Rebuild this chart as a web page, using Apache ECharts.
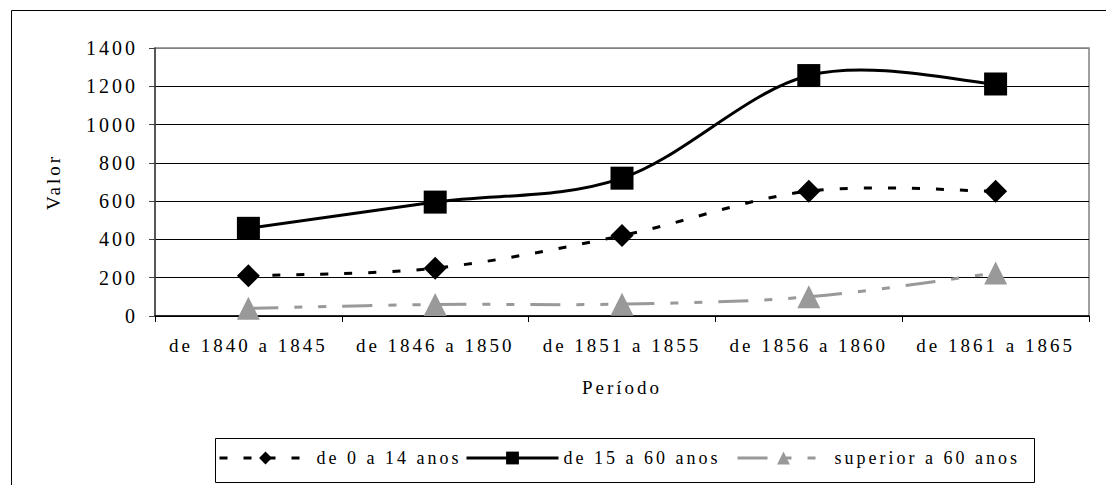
<!DOCTYPE html>
<html>
<head>
<meta charset="utf-8">
<script src="https://cdn.jsdelivr.net/npm/echarts@6/dist/echarts.min.js"></script>
<style>
  html, body { margin: 0; padding: 0; background: #fff; }
  #main { width: 1106px; height: 485px; }
  #main svg text { letter-spacing: 3px; font-family: 'Liberation Serif', 'Times New Roman', serif !important; }
</style>
</head>
<body>
<div id="main"></div>
<script>
const categories = ['de 1840 a 1845', 'de 1846 a 1850', 'de 1851 a 1855', 'de 1856 a 1860', 'de 1861 a 1865'];
const seriesNames = ['de 0 a 14 anos', 'de 15 a 60 anos', 'superior a 60 anos'];
const valores0a14 = [210, 250, 420, 652, 652];
const valores15a60 = [458, 595, 720, 1256, 1212];
const valoresSup60 = [40, 60, 62, 100, 225];
const yTicks = { min: 0, max: 1400, interval: 200 };

const font = "'Liberation Serif', serif";
const colors = ['#000000', '#000000', '#999999'];
const symbols = ['diamond', 'rect', 'triangle'];
const dashes = [[8, 16], 'solid', [30, 16, 8, 16, 8, 16]];
const allValues = [valores0a14, valores15a60, valoresSup60];
const legendLefts = [218, 465, 736];

// Smoothed curve (Excel-style cardinal spline) drawn through the axis scales
function curveSeries(idx) {
  const vals = allValues[idx];
  return {
    name: seriesNames[idx] + ' curva',
    type: 'custom',
    data: vals.map((v, i) => [i, v]),
    z: 1,
    silent: true,
    renderItem: function (params, api) {
      if (params.dataIndex !== 0) return null;
      const pts = vals.map((v, i) => api.coord([i, v]));
      let d = 'M' + pts[0][0] + ' ' + pts[0][1];
      for (let i = 0; i < pts.length - 1; i++) {
        const p0 = pts[Math.max(i - 1, 0)], p1 = pts[i], p2 = pts[i + 1], p3 = pts[Math.min(i + 2, pts.length - 1)];
        const c1x = p1[0] + (p2[0] - p0[0]) / 6, c1y = p1[1] + (p2[1] - p0[1]) / 6;
        const c2x = p2[0] - (p3[0] - p1[0]) / 6, c2y = p2[1] - (p3[1] - p1[1]) / 6;
        d += ' C' + c1x + ' ' + c1y + ' ' + c2x + ' ' + c2y + ' ' + p2[0] + ' ' + p2[1];
      }
      return {
        type: 'path',
        shape: { pathData: d },
        style: { fill: 'none', stroke: colors[idx], lineWidth: 3, lineDash: dashes[idx] === 'solid' ? null : dashes[idx] }
      };
    }
  };
}

function markerSeries(idx) {
  return {
    name: seriesNames[idx], type: 'line', data: allValues[idx],
    symbol: symbols[idx], symbolSize: 23, showSymbol: true,
    lineStyle: { color: colors[idx], width: 3, type: dashes[idx], opacity: 0 },
    itemStyle: { color: colors[idx] },
    z: 3 + idx
  };
}

function legendFor(idx) {
  return {
    left: legendLefts[idx], top: 449, padding: 0,
    itemWidth: 92, itemHeight: 16,
    textStyle: { fontFamily: font, fontSize: 18, color: '#000' },
    data: [{ name: seriesNames[idx], lineStyle: { opacity: 1, width: 3, color: colors[idx], type: dashes[idx] } }]
  };
}

const chart = echarts.init(document.getElementById('main'), null, { renderer: 'svg' });

chart.setOption({
  backgroundColor: '#fff',
  animation: false,
  graphic: [
    { type: 'rect', left: 9, top: 8, z: -10, shape: { width: 1300, height: 700 },
      style: { fill: 'none', stroke: '#000', lineWidth: 1 } },
    { type: 'rect', left: 213, top: 436, z: -10, shape: { width: 819, height: 44 },
      style: { fill: 'none', stroke: '#000', lineWidth: 1 } }
  ],
  grid: {
    left: 155, right: 17, top: 48, bottom: 169,
    show: true, borderColor: '#808080', borderWidth: 1.5, backgroundColor: 'transparent'
  },
  legend: [legendFor(0), legendFor(1), legendFor(2)],
  xAxis: {
    type: 'category',
    data: categories,
    boundaryGap: true,
    name: 'Período',
    nameLocation: 'middle',
    nameGap: 62,
    nameTextStyle: { fontFamily: font, fontSize: 19, color: '#000' },
    axisLine: { lineStyle: { color: '#000', width: 1.5 } },
    axisTick: { show: true, length: 6, lineStyle: { color: '#000' } },
    axisLabel: { fontFamily: font, fontSize: 19, color: '#000', margin: 20, interval: 0 }
  },
  yAxis: {
    type: 'value',
    min: yTicks.min, max: yTicks.max, interval: yTicks.interval,
    name: 'Valor',
    nameLocation: 'middle',
    nameGap: 92,
    nameTextStyle: { fontFamily: font, fontSize: 19, color: '#000' },
    axisLine: { show: true, lineStyle: { color: '#404040', width: 1.5 } },
    axisTick: { show: true, length: 6, lineStyle: { color: '#404040' } },
    axisLabel: { fontFamily: font, fontSize: 20, color: '#000', margin: 17, formatter: v => String(v) },
    splitLine: { show: true, lineStyle: { color: ['#000', '#000', '#000', '#000', '#000', '#000', '#000', '#808080'], width: 1 } }
  },
  series: [
    curveSeries(2), curveSeries(0), curveSeries(1),
    markerSeries(0), markerSeries(1), markerSeries(2)
  ]
});
</script>
</body>
</html>
